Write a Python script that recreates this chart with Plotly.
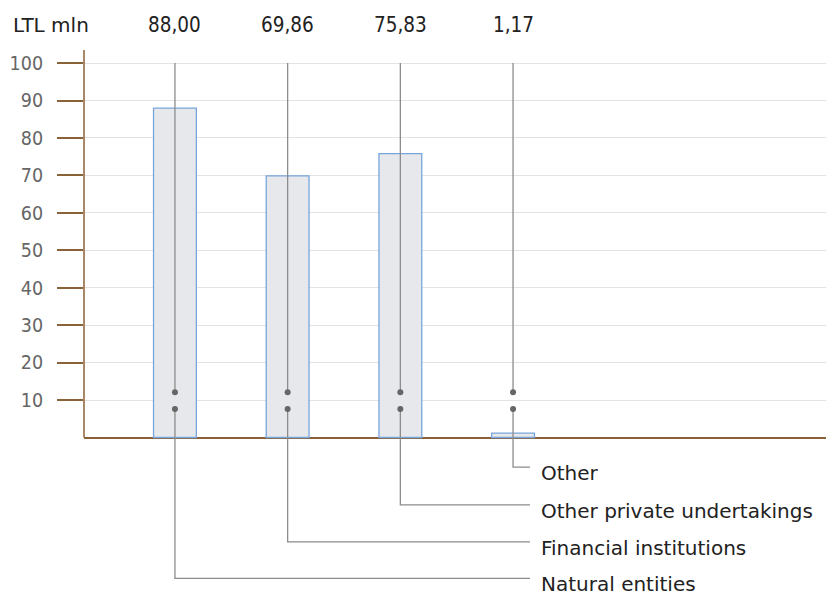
import plotly.graph_objects as go

# Deposits by holder group, LTL mln
categories = ["Natural entities", "Financial institutions", "Other private undertakings", "Other"]
values = [88.00, 69.86, 75.83, 1.17]
y_ticks = [10, 20, 30, 40, 50, 60, 70, 80, 90, 100]
unit_label = "LTL mln"

NUM_FONT = "DejaVu Sans Condensed, DejaVu Sans, sans-serif"
TXT_FONT = "DejaVu Sans, sans-serif"
BROWN = "#8a6239"
GRID = "#e3e3e3"
LEAD = "#8c8c8c"
DOT = "#666666"

x_pos = list(range(len(values)))
y_top, y_bottom = 103.5, -41.8
x_left, x_right = -0.807, 5.777
dot_hi, dot_lo = 12.1, 7.6          # connector dots inside the bars
leader_end = 3.15                   # where the horizontal leaders stop
label_x = 3.23                      # left edge of the leader texts
# leader levels below the baseline, one per category (Other is highest)
leader_level = {0: -37.6, 1: -27.9, 2: -18.0, 3: -7.9}

fig = go.Figure()

fig.add_trace(go.Bar(
    x=x_pos, y=values, width=0.38,
    marker=dict(color="#e7e8ec", line=dict(color="#78a6dc", width=1.3)),
    hoverinfo="skip",
))

# vertical connectors: from the top gridline down to the upper dot,
# then from the lower dot down to the leader level and across to the label
lx, ly = [], []
for i in x_pos:
    lx += [i, i, None]
    ly += [100, dot_hi, None]
    lev = leader_level[i]
    lx += [i, i, leader_end, None]
    ly += [dot_lo, lev, lev, None]
fig.add_trace(go.Scatter(
    x=lx, y=ly, mode="lines",
    line=dict(color=LEAD, width=1.3), hoverinfo="skip",
))

fig.add_trace(go.Scatter(
    x=x_pos * 2, y=[dot_hi] * len(x_pos) + [dot_lo] * len(x_pos),
    mode="markers", marker=dict(color=DOT, size=6), hoverinfo="skip",
))

annotations = []
for i, v in zip(x_pos, values):
    annotations.append(dict(
        x=i, xref="x", y=1, yref="paper", yshift=25,
        text=f"{v:.2f}".replace(".", ","), showarrow=False,
        xanchor="center", yanchor="middle",
        font=dict(family=NUM_FONT, size=20.5, color="#222222"),
    ))
for i, name in zip(x_pos, categories):
    annotations.append(dict(
        x=label_x, xref="x", y=leader_level[i], yref="y", yshift=-6,
        text=name, showarrow=False, xanchor="left", yanchor="middle",
        font=dict(family=TXT_FONT, size=20, color="#222222"),
    ))
annotations.append(dict(
    x=-0.0985, xref="paper", y=1, yref="paper", yshift=25,
    text=unit_label, showarrow=False, xanchor="left", yanchor="middle",
    font=dict(family=TXT_FONT, size=20, color="#222222"),
))

fig.update_layout(
    width=827, height=594,
    margin=dict(l=84, r=1, t=50, b=0),
    paper_bgcolor="white", plot_bgcolor="white",
    showlegend=False,
    annotations=annotations,
    shapes=[dict(
        type="line", xref="paper", yref="y",
        x0=0, x1=0, y0=0, y1=y_top,
        line=dict(color=BROWN, width=1.5),
    )],
    xaxis=dict(
        range=[x_left, x_right], showgrid=False, zeroline=False,
        showticklabels=False, ticks="", showline=False, fixedrange=True,
    ),
    yaxis=dict(
        range=[y_bottom, y_top], tickvals=y_ticks,
        ticks="outside", ticklen=26, tickwidth=1.5, tickcolor=BROWN,
        ticklabelstandoff=10,
        tickfont=dict(family=NUM_FONT, size=19.5, color="#666666"),
        showgrid=True, gridcolor=GRID, gridwidth=1,
        zeroline=True, zerolinecolor=BROWN, zerolinewidth=1.5,
        showline=False, fixedrange=True,
    ),
)

fig.write_html("out.html")
